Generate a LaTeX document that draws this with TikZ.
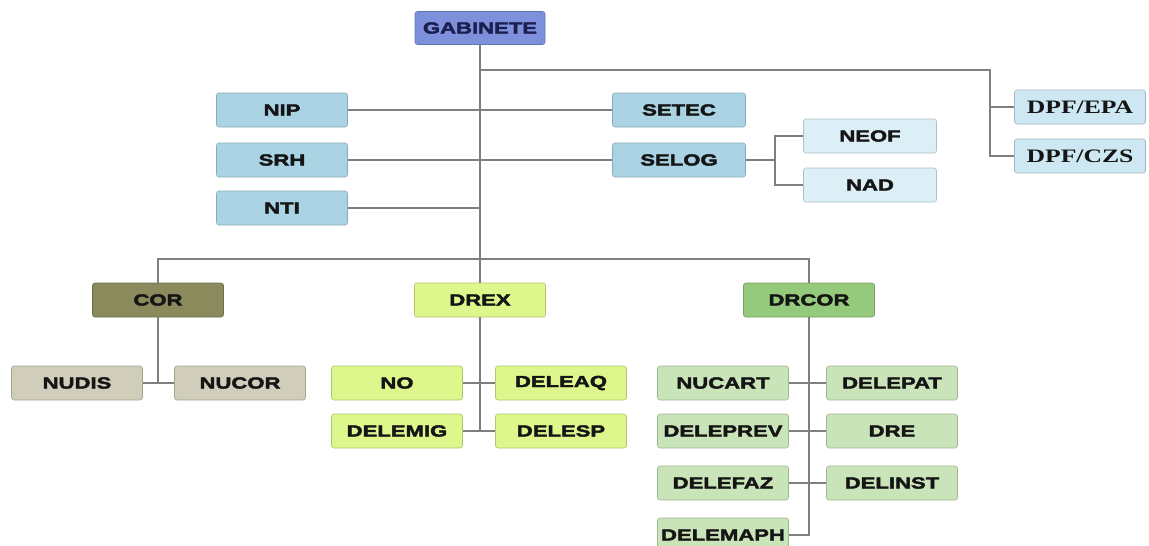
\documentclass[tikz,border=0pt]{standalone}
\usepackage{fontspec}
\setmainfont{Liberation Sans}
\newfontfamily\boxfont[FakeStretch=1.38,FakeBold=2.6]{Liberation Sans Bold}
\newfontfamily\dpffont[FakeStretch=1.35]{Liberation Serif Bold}
\definecolor{linegray}{HTML}{7F7F7F}
\definecolor{gabfill}{HTML}{7D90DC}
\definecolor{gabtext}{HTML}{1B1E4E}
\definecolor{bluefill}{HTML}{AAD4E4}
\definecolor{paleblue}{HTML}{DCEFF7}
\definecolor{dpffill}{HTML}{CDE8F3}
\definecolor{olivefill}{HTML}{8A8A5C}
\definecolor{beigefill}{HTML}{D0CEBA}
\definecolor{limefill}{HTML}{DDF78C}
\definecolor{greenfill}{HTML}{95C97B}
\definecolor{palegreen}{HTML}{CAE4B9}
\definecolor{textdark}{HTML}{151515}
\tikzset{
  x=1pt, y=-1pt,
  orgbox/.style={rectangle, rounded corners=2.5pt, minimum width=131pt, minimum height=34pt,
    inner sep=0pt, draw=#1!80!black, line width=0.6pt, fill=#1,
    font=\boxfont\fontsize{16}{17}\selectfont, text=textdark},
  dpfbox/.style={orgbox=dpffill, font=\dpffont\fontsize{19}{20}\selectfont},
  link/.style={draw=linegray, line width=1.5pt}
}
\begin{document}
\begin{tikzpicture}
\useasboundingbox (0,0) rectangle (1149,546);
\fill[white] (0,0) rectangle (1149,546);

% nodes
\node[orgbox=gabfill, text=gabtext, minimum width=130pt, minimum height=33pt] (gab) at (480,28) {GABINETE};

\node[orgbox=bluefill] (nip) at (282,110) {NIP};
\node[orgbox=bluefill] (srh) at (282,160) {SRH};
\node[orgbox=bluefill] (nti) at (282,208) {NTI};

\node[orgbox=bluefill, minimum width=133pt] (setec) at (679,110) {SETEC};
\node[orgbox=bluefill, minimum width=133pt] (selog) at (679,160) {SELOG};

\node[orgbox=paleblue, minimum width=133pt] (neof) at (870,136) {NEOF};
\node[orgbox=paleblue, minimum width=133pt] (nad) at (870,185) {NAD};

\node[dpfbox] (epa) at (1080,107) {DPF/EPA};
\node[dpfbox] (czs) at (1080,156) {DPF/CZS};

\node[orgbox=olivefill] (cor) at (158,300) {COR};
\node[orgbox=limefill] (drex) at (480,300) {DREX};
\node[orgbox=greenfill] (drcor) at (809,300) {DRCOR};

\node[orgbox=beigefill] (nudis) at (77,383) {NUDIS};
\node[orgbox=beigefill] (nucor) at (240,383) {NUCOR};

\node[orgbox=limefill] (no) at (397,383) {NO};
\node[orgbox=limefill] (deleaq) at (561,383) {DELEAQ};
\node[orgbox=limefill] (delemig) at (397,431) {DELEMIG};
\node[orgbox=limefill] (delesp) at (561,431) {DELESP};

\node[orgbox=palegreen] (nucart) at (723,383) {NUCART};
\node[orgbox=palegreen] (delepat) at (892,383) {DELEPAT};
\node[orgbox=palegreen] (deleprev) at (723,431) {DELEPREV};
\node[orgbox=palegreen] (dre) at (892,431) {DRE};
\node[orgbox=palegreen] (delefaz) at (723,483) {DELEFAZ};
\node[orgbox=palegreen] (delinst) at (892,483) {DELINST};
\node[orgbox=palegreen] (delemaph) at (723,535) {DELEMAPH};

% junction coordinates
\coordinate (mtop) at (480,70);
\coordinate (mnti) at (480,208);
\coordinate (mbar) at (480,259);
\coordinate (barl) at (158,259);
\coordinate (barr) at (809,259);
\coordinate (dtop) at (990,70);
\coordinate (depa) at (990,107);
\coordinate (dczs) at (990,156);
\coordinate (sj) at (775,160);
\coordinate (sjt) at (775,136);
\coordinate (sjb) at (775,185);
\coordinate (corb) at (158,383);
\coordinate (drexb) at (480,431);
\coordinate (drcorb) at (809,535);

% connectors
\draw[link] (gab.south) -- (mbar);
\draw[link] (mtop) -- (dtop) -- (dczs) -- (czs.west);
\draw[link] (depa) -- (epa.west);
\draw[link] (nip.east) -- (setec.west);
\draw[link] (srh.east) -- (selog.west);
\draw[link] (nti.east) -- (mnti);
\draw[link] (selog.east) -- (sj);
\draw[link] (neof.west) -- (sjt) -- (sjb) -- (nad.west);
\draw[link] (cor.north) -- (barl) -- (barr) -- (drcor.north);
\draw[link] (mbar) -- (drex.north);
\draw[link] (cor.south) -- (corb);
\draw[link] (nudis.east) -- (nucor.west);
\draw[link] (drex.south) -- (drexb);
\draw[link] (no.east) -- (deleaq.west);
\draw[link] (delemig.east) -- (delesp.west);
\draw[link] (drcor.south) -- (drcorb) -- (delemaph.east);
\draw[link] (nucart.east) -- (delepat.west);
\draw[link] (deleprev.east) -- (dre.west);
\draw[link] (delefaz.east) -- (delinst.west);
\end{tikzpicture}
\end{document}
